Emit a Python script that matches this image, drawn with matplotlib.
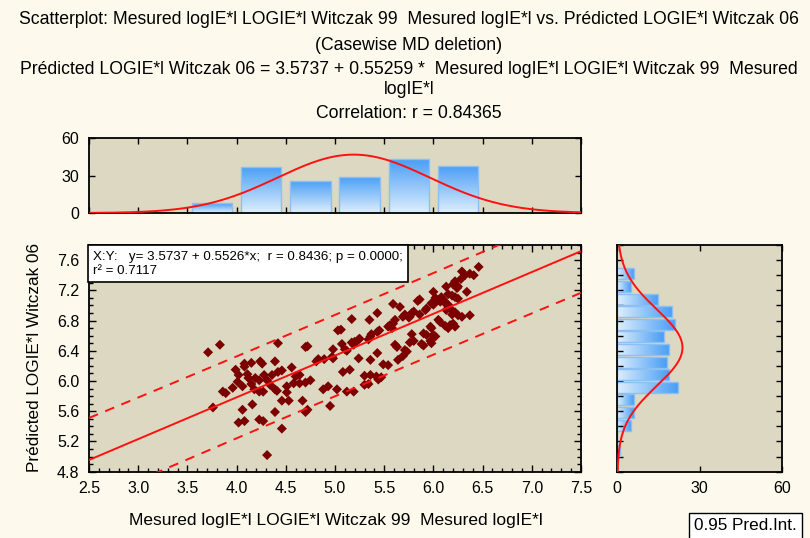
import numpy as np
import matplotlib
matplotlib.use("Agg")
import matplotlib.pyplot as plt
from matplotlib.colors import LinearSegmentedColormap
from matplotlib.ticker import MultipleLocator

plt.rcParams['font.family'] = ['Liberation Sans', 'DejaVu Sans']

# ---------------- data ----------------
x_measured = [
    3.71, 3.83, 4.42, 4.70, 4.72, 4.08, 4.15, 4.24, 4.26, 4.39,
    3.99, 4.08, 4.56, 4.42, 4.46, 4.02, 4.11, 4.19, 4.23, 4.28,
    4.36, 4.31, 4.12, 4.01, 4.06, 4.15, 4.34, 3.96, 4.18, 3.86,
    3.89, 4.23, 4.27, 4.39, 4.41, 4.51, 4.51, 4.58, 4.60, 4.64,
    4.64, 4.70, 4.75, 3.76, 4.46, 4.53, 4.67, 4.16, 4.06, 4.39,
    4.70, 4.72, 4.02, 4.08, 4.23, 4.27, 4.46, 4.31,
    4.81, 4.83, 4.89, 4.97, 4.98, 4.88, 4.93, 5.02, 4.95, 5.03,
    5.06, 5.07, 5.10, 5.12, 5.17, 5.19, 5.20, 5.24, 5.25, 5.34,
    5.36, 5.37, 5.43, 5.45, 4.98, 5.08, 5.15, 5.24, 5.36, 5.43,
    5.49, 5.30, 5.34, 5.44, 5.47, 5.43, 5.35, 5.17, 5.12, 5.19,
    5.30, 5.36, 5.42,
    6.46, 6.29, 6.32, 6.37, 6.41, 6.28, 6.22, 6.20, 6.25, 6.24,
    6.13, 6.34, 6.15, 6.19, 6.22, 6.25, 6.08, 6.10, 6.00, 6.02,
    6.05, 6.07, 5.98, 6.00, 6.12, 6.15, 5.86, 5.84, 5.93, 5.92,
    5.80, 5.78, 5.86, 5.66, 5.59, 5.71, 5.69, 5.75, 5.76, 5.61,
    5.59, 5.56, 5.54, 5.58,
    6.13, 6.17, 6.19, 6.22, 6.25, 6.29, 6.37, 6.17, 6.20, 6.22,
    6.05, 6.07, 6.12, 6.15, 5.97, 5.98, 6.00, 6.02, 5.90, 5.93,
    5.97, 5.98, 5.88, 5.90, 5.80, 5.76, 5.78, 5.61, 5.63, 5.71,
    5.73, 5.69, 5.64, 5.54,
]
y_predicted = [
    6.38, 6.48, 6.50, 6.45, 6.46, 6.23, 6.24, 6.26, 6.23, 6.26,
    6.15, 6.19, 6.18, 6.12, 6.14, 6.08, 6.09, 6.04, 6.01, 6.08,
    6.08, 6.01, 6.04, 5.99, 5.93, 5.96, 5.95, 5.91, 5.89, 5.86,
    5.84, 5.86, 5.86, 5.89, 5.87, 5.93, 5.85, 5.97, 6.06, 6.08,
    5.97, 5.98, 6.01, 5.65, 5.74, 5.74, 5.74, 5.69, 5.62, 5.59,
    5.59, 5.62, 5.45, 5.47, 5.49, 5.47, 5.37, 5.02,
    6.26, 6.29, 6.29, 6.32, 6.42, 5.89, 5.93, 5.89, 5.67, 6.67,
    6.68, 6.49, 6.42, 6.40, 6.51, 6.48, 6.52, 6.55, 6.56, 6.55,
    6.59, 6.62, 6.65, 6.67, 6.30, 6.12, 6.15, 6.30, 6.28, 6.37,
    6.22, 5.95, 5.96, 6.02, 6.05, 6.90, 6.81, 6.82, 5.86, 5.86,
    6.07, 6.08, 6.06,
    7.51, 7.45, 7.40, 7.42, 7.40, 7.35, 7.32, 7.28, 7.25, 7.23,
    7.25, 7.18, 7.15, 7.13, 7.11, 7.09, 7.11, 7.08, 7.18, 7.10,
    7.07, 7.05, 7.03, 7.01, 7.03, 7.01, 7.08, 7.06, 6.96, 6.94,
    6.92, 6.90, 6.88, 6.98, 7.02, 6.88, 6.85, 6.84, 6.85, 6.81,
    6.76, 6.74, 6.72, 6.70,
    6.94, 6.96, 6.88, 6.91, 6.87, 6.85, 6.87, 6.74, 6.76, 6.72,
    6.81, 6.78, 6.73, 6.70, 6.72, 6.70, 6.61, 6.59, 6.63, 6.61,
    6.53, 6.50, 6.49, 6.47, 6.53, 6.51, 6.62, 6.48, 6.45, 6.41,
    6.39, 6.33, 6.28, 6.21,
]

# marginal histogram of X (bin lower edges, width 0.5)
x_bin_edges = [3.5, 4.0, 4.5, 5.0, 5.5, 6.0]
x_bin_counts = [8, 37, 26, 29, 43, 38]
# marginal histogram of Y (bin lower edges, width 1/6)
y_bin_edges = [7.3333, 7.1667, 7.0, 6.8333, 6.6667, 6.5, 6.3333, 6.1667,
               6.0, 5.8333, 5.6667, 5.5, 5.3333, 5.1667, 5.0]
y_bin_counts = [6, 5, 15, 20, 21, 17, 19, 18, 19, 22, 6, 6, 5, 0, 1]

# regression and summary statistics
intercept = 3.5737
slope = 0.55259
n_cases = 181
mean_x, sd_x = 5.19, 0.773
mean_y, sd_y = 6.442, 0.506
resid_sd = 0.272
t_95 = 1.973

x_ticks = [2.5, 3.0, 3.5, 4.0, 4.5, 5.0, 5.5, 6.0, 6.5, 7.0, 7.5]
y_ticks = [4.8, 5.2, 5.6, 6.0, 6.4, 6.8, 7.2, 7.6]
count_ticks = [0, 30, 60]

title_lines = [
    "Scatterplot: Mesured logIE*l LOGIE*l Witczak 99  Mesured logIE*l vs. Prédicted LOGIE*l Witczak 06",
    "(Casewise MD deletion)",
    "Prédicted LOGIE*l Witczak 06 = 3.5737 + 0.55259 *  Mesured logIE*l LOGIE*l Witczak 99  Mesured",
    "logIE*l",
    "Correlation: r = 0.84365",
]
x_label = "Mesured logIE*l LOGIE*l Witczak 99  Mesured logIE*l"
y_label = "Prédicted LOGIE*l Witczak 06"
stats_text = "X:Y:   y= 3.5737 + 0.5526*x;  r = 0.8436; p = 0.0000;\nr² = 0.7117"
legend_text = "0.95 Pred.Int."

# ---------------- styling ----------------
FIG_BG = '#FDF9EC'
AX_BG = '#DCD8C2'
PT_COLOR = '#7B0000'
LINE_RED = '#FF1010'
W, H = 810, 538

fig = plt.figure(figsize=(W / 100, H / 100), dpi=100, facecolor=FIG_BG)

def fx(px):
    return px / W

def fy(py):
    return 1 - py / H

ax = fig.add_axes([fx(89), fy(471.7), fx(492), (471.7 - 245) / H])
ax_top = fig.add_axes([fx(89), fy(213), fx(492), (213 - 138) / H])
ax_r = fig.add_axes([fx(617.3), fy(471.7), fx(164.4), (471.7 - 245) / H])

for a in (ax, ax_top, ax_r):
    a.set_facecolor(AX_BG)
    for s in a.spines.values():
        s.set_linewidth(1.3)
        s.set_color('black')

XLIM = (2.5, 7.5)
YLIM = (4.8, 7.8)

# ---------------- main scatter ----------------
ax.scatter(x_measured, y_predicted, marker='D', s=26, color=PT_COLOR,
           edgecolors='none', zorder=3)
xs = np.linspace(XLIM[0], XLIM[1], 300)
yhat = intercept + slope * xs
sxx = (n_cases - 1) * sd_x ** 2
half = t_95 * resid_sd * np.sqrt(1 + 1 / n_cases + (xs - mean_x) ** 2 / sxx)
ax.plot(xs, yhat, color=LINE_RED, lw=1.4, zorder=4)
ax.plot(xs, yhat + half, color=LINE_RED, lw=1.4, ls=(0, (5, 4)), zorder=4)
ax.plot(xs, yhat - half, color=LINE_RED, lw=1.4, ls=(0, (5, 4)), zorder=4)
ax.set_xlim(*XLIM)
ax.set_ylim(*YLIM)
ax.set_xticks(x_ticks)
ax.set_xticklabels([f"{v:.1f}" for v in x_ticks])
ax.set_yticks(y_ticks)
ax.set_yticklabels([f"{v:.1f}" for v in y_ticks])
ax.xaxis.set_minor_locator(MultipleLocator(0.1))
ax.yaxis.set_minor_locator(MultipleLocator(0.1))
ax.tick_params(which='both', direction='in', top=True, right=True, width=1, color='black',
               labelsize=11.5, pad=7)
ax.tick_params(which='major', length=5)
ax.tick_params(which='minor', length=3)

ax.text(0.008, 0.975, stats_text, transform=ax.transAxes, ha='left', va='top',
        fontsize=9.6, linespacing=1.25, zorder=6,
        bbox=dict(boxstyle='square,pad=0.4', facecolor='white', edgecolor='black', lw=1.2))

# ---------------- gradient bars helper ----------------
cmap_v = LinearSegmentedColormap.from_list('bv', ['#DDEEFC', '#4A9EF6'])

def gradient_bars(axis, bars, vertical=True):
    for b in bars:
        x0, y0 = b.get_x(), b.get_y()
        w, h = b.get_width(), b.get_height()
        if w == 0 or h == 0:
            continue
        if vertical:
            grad = np.linspace(0, 1, 64).reshape(-1, 1)
        else:
            grad = np.linspace(0, 1, 64).reshape(1, -1)
        im = axis.imshow(grad, extent=[x0, x0 + w, y0, y0 + h], origin='lower',
                         cmap=cmap_v, aspect='auto', zorder=1, interpolation='bilinear')
        im.set_clip_path(b)

# ---------------- top histogram ----------------
xb_w = 0.5
bars_t = ax_top.bar(np.array(x_bin_edges) + xb_w / 2, x_bin_counts, width=0.41,
                    facecolor='none', edgecolor='#8DC0F2', lw=1, zorder=2)
gradient_bars(ax_top, bars_t, vertical=True)
pdf_x = n_cases * xb_w / (sd_x * np.sqrt(2 * np.pi)) * np.exp(-0.5 * ((xs - mean_x) / sd_x) ** 2)
ax_top.plot(xs, pdf_x, color=LINE_RED, lw=1.4, zorder=3)
ax_top.set_xlim(*XLIM)
ax_top.set_ylim(0, 60)
ax_top.set_xticks(x_ticks)
ax_top.set_xticklabels([])
ax_top.set_yticks(count_ticks)
ax_top.set_yticklabels([str(v) for v in count_ticks])
ax_top.tick_params(direction='in', top=True, right=True, length=4, width=1,
                   labelsize=11.5, pad=7)

# ---------------- right histogram ----------------
yb_w = 1 / 6
bars_r = ax_r.barh(np.array(y_bin_edges) + yb_w / 2, y_bin_counts, height=0.145,
                   facecolor='none', edgecolor='#8DC0F2', lw=1, zorder=2)
gradient_bars(ax_r, bars_r, vertical=False)
ys = np.linspace(YLIM[0], YLIM[1], 300)
pdf_y = n_cases * yb_w / (sd_y * np.sqrt(2 * np.pi)) * np.exp(-0.5 * ((ys - mean_y) / sd_y) ** 2)
ax_r.plot(pdf_y, ys, color=LINE_RED, lw=1.4, zorder=3)
ax_r.set_ylim(*YLIM)
ax_r.set_xlim(0, 60)
ax_r.set_xticks(count_ticks)
ax_r.set_xticklabels([str(v) for v in count_ticks])
ax_r.yaxis.set_major_locator(MultipleLocator(0.2))
ax_r.set_yticklabels([])
ax_r.tick_params(direction='in', top=True, right=True, length=4, width=1,
                 labelsize=11.5, pad=7)

# ---------------- texts ----------------
title_y = [20, 45, 69, 90, 114]
for line, py in zip(title_lines, title_y):
    fig.text(fx(409), fy(py), line, ha='center', va='center', fontsize=12.7)

fig.text(fx(336), fy(521), x_label, ha='center', va='center', fontsize=12.5)
fig.text(fx(35), fy(357), y_label, ha='center', va='center', rotation=90, fontsize=12.3)
fig.text(fx(745), fy(526), legend_text, ha='center', va='center', fontsize=12.3,
         bbox=dict(boxstyle='square,pad=0.3', facecolor='white', edgecolor='black', lw=1))

fig.savefig('out.png', dpi=100, facecolor=FIG_BG)
